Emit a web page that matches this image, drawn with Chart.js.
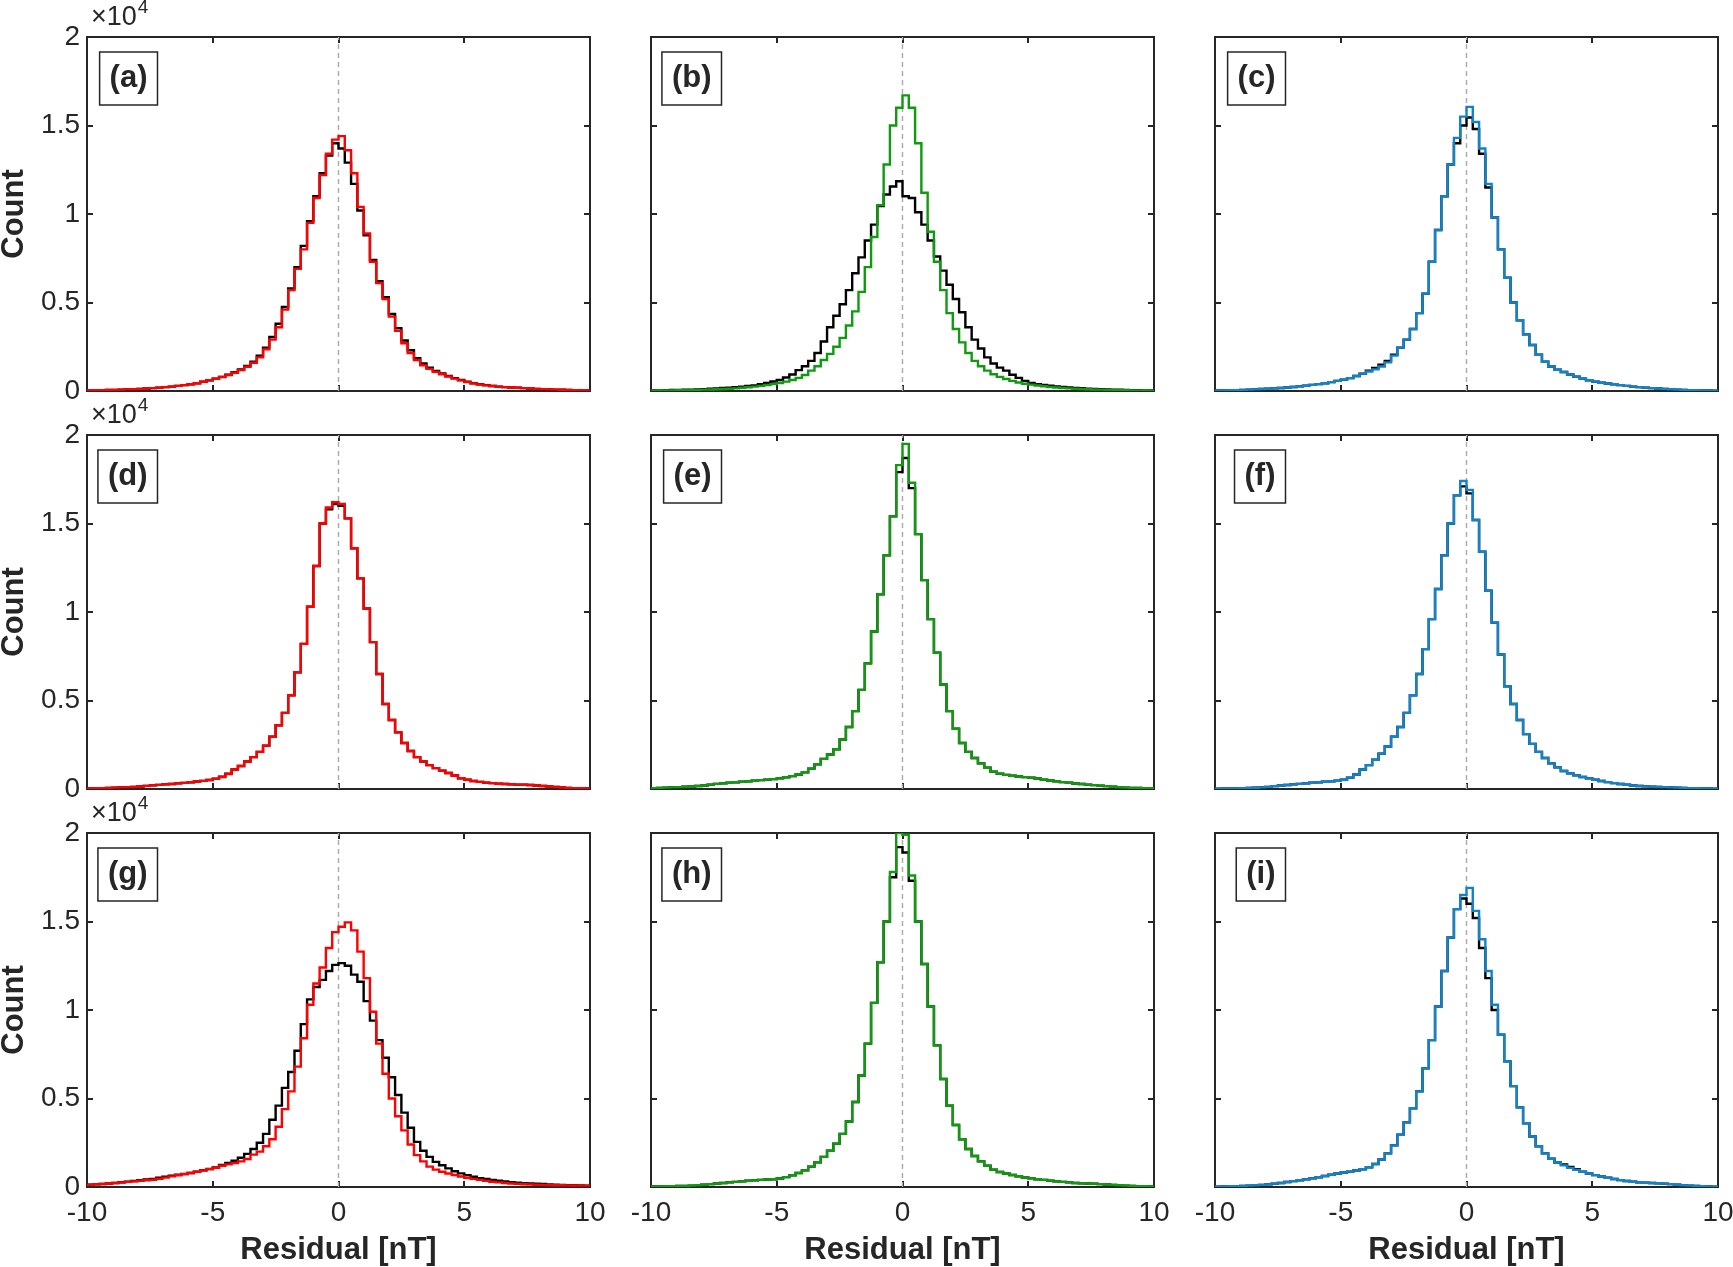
<!DOCTYPE html>
<html><head><meta charset="utf-8">
<script src="https://cdn.jsdelivr.net/npm/chart.js@4.4.1/dist/chart.umd.min.js"></script>
<style>
html,body{margin:0;padding:0;background:#fff;overflow:hidden;width:1733px;height:1267px;}
canvas{position:absolute;}
</style></head><body>
<script>
// ---------- DATA ----------
const binEdges = [-10,-9.75,-9.5,-9.25,-9,-8.75,-8.5,-8.25,-8,-7.75,-7.5,-7.25,-7,-6.75,-6.5,-6.25,-6,-5.75,-5.5,-5.25,
  -5,-4.75,-4.5,-4.25,-4,-3.75,-3.5,-3.25,-3,-2.75,-2.5,-2.25,-2,-1.75,-1.5,-1.25,-1,-0.75,-0.5,-0.25,
  0,0.25,0.5,0.75,1,1.25,1.5,1.75,2,2.25,2.5,2.75,3,3.25,3.5,3.75,4,4.25,4.5,4.75,
  5,5.25,5.5,5.75,6,6.25,6.5,6.75,7,7.25,7.5,7.75,8,8.25,8.5,8.75,9,9.25,9.5,9.75,10];
const xTicks = [-10,-5,0,5,10];
const xTickLabels = ['-10','-5','0','5','10'];
const yTicks = [0,5000,10000,15000,20000];
const yTickLabels = ['0','0.5','1','1.5','2'];
const panelLabels = ['(a)','(b)','(c)','(d)','(e)','(f)','(g)','(h)','(i)'];
const xTitle = 'Residual [nT]';
const yTitle = 'Count';

const redA = [30,40,45,55,65,75,90,100,120,140, 160,190,220,250,290,330,380,440,520,610,
  690,790,900,1030,1180,1370,1600,1900,2350,2900, 3600,4600,5700,6900,8000,9500,10900,12200,13400,14200,
  14400,13600,12300,10400,8900,7300,6100,5200,4200,3400, 2700,2150,1750,1450,1250,1080,950,820,700,600,
  500,430,370,320,280,250,220,200,180,160, 140,120,105,90,80,70,55,45,40,30];
const blackA = [30,40,45,55,65,75,90,100,120,140, 160,190,220,250,290,330,380,440,520,610,
  700,800,920,1060,1220,1420,1660,2000,2450,3050, 3800,4750,5800,7000,8200,9600,11000,12300,13300,14000,
  13700,12900,11700,10200,8800,7400,6200,5300,4350,3550, 2850,2300,1850,1550,1320,1130,990,850,730,620,
  520,440,380,330,285,250,220,200,180,160, 140,120,105,90,80,70,55,45,40,30];
const greenB = [20,25,30,35,40,45,55,65,75,85, 100,115,130,150,180,210,250,290,340,390,
  450,530,620,740,900,1150,1400,1750,2100,2500, 3000,3700,4500,5600,7000,8700,10500,12800,15000,16000,
  16700,16000,14000,11200,9000,7300,5700,4400,3500,2750, 2150,1700,1400,1150,950,800,680,570,480,410,
  360,310,270,230,200,170,150,130,110,95, 85,75,65,55,45,40,35,30,25,20];
const blackB = [30,35,45,55,60,70,80,90,105,125, 145,170,190,215,245,280,320,390,460,540,
  620,760,930,1180,1400,1700,2150,2800,3600,4250, 4900,5700,6650,7550,8500,9400,10450,11100,11550,11850,
  11000,10900,10100,9400,8500,7600,6800,6000,5200,4450, 3600,2900,2400,1900,1550,1320,1150,920,740,570,
  460,390,340,300,260,230,200,175,155,135, 120,105,90,80,70,60,50,40,35,30];
const blueC = [25,30,40,50,60,75,90,110,130,150, 170,195,225,260,300,345,390,440,500,570,
  640,730,850,980,1100,1220,1380,1620,2000,2450, 2900,3500,4400,5500,7300,9100,11000,12800,14300,15500,
  16050,15200,13700,11700,9800,8000,6400,5000,4000,3200, 2600,2050,1650,1380,1200,1070,930,810,700,610,
  530,470,420,380,330,290,250,220,190,160, 140,115,95,80,65,50,40,30,25,20];
const blackC = [25,30,40,50,60,75,90,110,130,150, 170,195,225,260,300,345,390,440,500,570,
  640,730,850,980,1150,1300,1480,1700,2050,2450, 2900,3500,4400,5500,7300,9100,11000,12800,14000,15000,
  15450,14800,13400,11500,9800,8000,6400,5000,4000,3200, 2600,2050,1650,1380,1200,1070,930,810,700,610,
  530,470,420,380,330,290,250,220,190,160, 140,115,95,80,65,50,40,30,25,20];
const redD = [30,40,50,60,75,90,105,120,145,175, 205,235,260,285,315,345,380,420,460,510,
  570,680,850,1100,1300,1550,1800,2100,2450,2950, 3600,4300,5300,6600,8200,10300,12600,15000,15900,16200,
  16100,15300,13600,11900,10200,8300,6500,4800,3900,3200, 2600,2150,1800,1550,1350,1180,1040,900,760,610,
  520,450,400,360,330,300,280,265,250,240, 225,200,170,140,110,85,65,50,40,30];
const blackD = [30,40,50,60,75,90,105,120,145,175, 205,235,260,285,315,345,380,420,460,510,
  580,700,870,1100,1300,1550,1800,2100,2450,2950, 3600,4300,5300,6600,8200,10300,12600,15000,15800,16100,
  16000,15300,13600,11900,10200,8300,6500,4800,3900,3200, 2600,2150,1800,1550,1350,1180,1040,900,760,610,
  520,450,400,360,330,300,280,265,250,240, 225,200,170,140,110,85,65,50,40,30];
const greenE = [50,60,75,90,105,125,145,170,200,250, 290,320,350,380,410,440,470,500,530,560,
  600,660,730,820,950,1150,1400,1700,1950,2250, 2800,3500,4400,5600,7100,8900,11000,13200,15400,18300,
  19500,17300,14400,11800,9600,7700,5900,4400,3400,2600, 2100,1750,1450,1200,980,870,800,750,710,670,
  640,590,530,480,430,390,350,310,280,250, 220,190,160,130,100,80,65,55,45,40];
const blackE = [50,60,75,90,105,125,145,170,200,250, 290,320,350,380,410,440,470,500,530,560,
  600,660,730,820,950,1150,1400,1700,1950,2250, 2800,3500,4400,5600,7100,8900,11000,13200,15400,17900,
  18700,17000,14400,11800,9600,7700,5900,4400,3400,2600, 2100,1750,1450,1200,980,870,800,750,710,670,
  640,590,530,480,430,390,350,310,280,250, 220,190,160,130,100,80,65,55,45,40];
const blueF = [20,25,30,35,45,55,70,90,120,160, 200,230,260,290,320,350,380,410,440,470,
  520,640,820,1100,1350,1650,2000,2400,2950,3500, 4300,5300,6500,7900,9600,11300,13200,15000,16600,17400,
  16900,15200,13400,11200,9400,7600,5800,4800,3900,3100, 2550,2100,1750,1450,1220,1020,880,770,680,600,
  520,450,390,330,280,240,200,170,150,135, 120,105,90,75,60,50,40,30,25,20];
const blackF = [20,25,30,35,45,55,70,90,120,160, 200,230,260,290,320,350,380,410,440,470,
  520,640,820,1100,1350,1650,2000,2400,2950,3500, 4300,5300,6500,7900,9600,11300,13200,15000,16600,17100,
  16700,15200,13400,11200,9400,7600,5800,4800,3900,3100, 2550,2100,1750,1450,1220,1020,880,770,680,600,
  520,450,390,330,280,240,200,170,150,135, 120,105,90,75,60,50,40,30,25,20];
const redG = [130,150,170,195,225,255,290,320,350,380, 410,470,530,600,660,720,790,860,930,1010,
  1090,1200,1280,1360,1450,1580,1830,2000,2300,2700, 3400,4400,5400,6800,8400,10300,11500,12400,13500,14400,
  14700,14950,14500,13300,11800,9900,8100,6400,5000,4000, 3200,2400,1800,1450,1150,980,860,760,680,590,
  520,460,400,350,300,260,230,200,175,155, 140,130,120,110,100,95,90,85,80,75];
const blackG = [130,150,170,200,230,265,300,340,380,420, 455,520,580,640,690,740,790,870,950,1020,
  1100,1250,1360,1480,1650,1870,2150,2500,3000,3800, 4600,5600,6500,7700,9200,10600,11300,11700,12200,12550,
  12650,12500,12000,11600,10500,9400,8300,7300,6200,5200, 4200,3350,2550,2050,1700,1420,1230,1050,890,770,
  670,580,500,450,400,355,310,275,245,220, 200,185,170,150,135,120,105,95,85,75];
const greenH = [30,35,40,45,55,65,80,100,130,165, 200,230,260,290,320,350,375,400,420,440,
  480,560,660,790,940,1150,1400,1700,2050,2450, 3000,3700,4800,6300,8100,10400,12700,15000,17800,20000,
  19900,17600,15000,12600,10200,8000,6100,4600,3500,2700, 2150,1750,1450,1200,980,850,760,680,610,540,
  490,440,400,360,320,290,260,230,210,195, 180,160,140,120,100,80,65,50,40,30];
const blackH = [30,35,40,45,55,65,80,100,130,165, 200,230,260,290,320,350,375,400,420,440,
  480,560,660,790,940,1150,1400,1700,2050,2450, 3000,3700,4800,6300,8100,10400,12700,15000,17500,19200,
  18900,17300,15000,12600,10200,8000,6100,4600,3500,2700, 2150,1750,1450,1200,980,850,760,680,610,540,
  490,440,400,360,320,290,260,230,210,195, 180,160,140,120,100,80,65,50,40,30];
const blueI = [20,30,40,50,60,75,95,120,150,190, 230,280,330,380,430,490,550,620,690,760,
  820,870,930,1000,1120,1300,1550,1900,2350,2950, 3650,4450,5400,6700,8300,10200,12200,14100,15700,16500,
  16900,15600,14000,12200,10300,8600,7100,5700,4500,3600, 2850,2300,1900,1600,1380,1220,1080,970,860,760,
  670,590,520,450,390,340,300,265,240,225, 210,190,160,130,100,75,55,40,30,20];
const blackI = [20,30,40,50,60,75,95,120,150,190, 230,280,330,380,430,490,550,620,690,760,
  820,870,930,1000,1120,1300,1550,1900,2350,2950, 3650,4450,5400,6700,8300,10200,12200,14100,15700,16300,
  16000,15200,13500,11800,10000,8600,7100,5700,4500,3600, 2850,2300,1900,1600,1380,1280,1130,1010,860,760,
  670,590,520,450,390,340,300,265,240,225, 210,190,160,130,100,75,55,40,30,20];

// ---------- STYLE / LAYOUT ----------
const RED = '#ff0000', GREEN = '#109a10', BLUE = '#1283c8';
const colColors = [RED, GREEN, BLUE];
const coloredSeries = [redA, greenB, blueC, redD, greenE, blueF, redG, greenH, blueI];
const blackSeries = [blackA, blackB, blackC, blackD, blackE, blackF, blackG, blackH, blackI];
const COL_LEFT = [87, 651, 1215];
const ROW_TOP = [37, 435, 833];
const PLOT_W = 503, PLOT_H = 354;
const ML = 87, MT = 37, MR = 15, MB = 80;
const FONT = "'Liberation Sans', Arial, Helvetica, sans-serif";
const AX = '#262626';

function toSteps(counts) {
  return binEdges.map((e, i) => ({x: e, y: counts[Math.min(i, counts.length - 1)]}));
}

function zeroPad(s) { s.paddingLeft = 0; s.paddingRight = 0; s.paddingTop = 0; s.paddingBottom = 0; }

const framePlugin = {
  id: 'matFrame',
  beforeDatasetsDraw(chart) {
    const {ctx, chartArea: a, scales: {x, y}} = chart;
    ctx.save();
    ctx.strokeStyle = AX; ctx.lineWidth = 2;
    ctx.beginPath();
    xTicks.forEach(v => {
      const px = Math.round(x.getPixelForValue(v));
      ctx.moveTo(px, a.bottom); ctx.lineTo(px, a.bottom - 6);
      ctx.moveTo(px, a.top); ctx.lineTo(px, a.top + 6);
    });
    yTicks.forEach(v => {
      const py = Math.round(y.getPixelForValue(v));
      ctx.moveTo(a.left, py); ctx.lineTo(a.left + 6, py);
      ctx.moveTo(a.right, py); ctx.lineTo(a.right - 6, py);
    });
    ctx.stroke();
    ctx.strokeRect(a.left, a.top, a.right - a.left, a.bottom - a.top);
    ctx.restore();
  },
  afterDatasetsDraw(chart) {
    const {ctx, chartArea: a} = chart;
    const info = chart.options.plugins.matFrame;
    ctx.save();
    // panel label box
    ctx.font = 'bold 31px ' + FONT;
    const tw = ctx.measureText(info.label).width;
    const bw = tw + 20, bh = 53;
    const bx = a.left + 70.5 - bw, by = a.top + 15;
    ctx.fillStyle = '#fff'; ctx.fillRect(bx, by, bw, bh);
    ctx.strokeStyle = AX; ctx.lineWidth = 1.5; ctx.strokeRect(bx, by, bw, bh);
    ctx.fillStyle = AX; ctx.textAlign = 'center'; ctx.textBaseline = 'middle';
    ctx.fillText(info.label, bx + bw / 2, by + bh / 2);
    // exponent label
    if (info.showY) {
      ctx.textAlign = 'left'; ctx.textBaseline = 'alphabetic';
      ctx.font = '27px ' + FONT;
      const base = '\u00d710';
      ctx.fillText(base, a.left + 4, a.top - 12);
      const w = ctx.measureText(base).width;
      ctx.font = '19px ' + FONT;
      ctx.fillText('4', a.left + 4 + w + 1, a.top - 24);
    }
    ctx.restore();
  }
};

coloredSeries.forEach((colored, idx) => {
  const row = Math.floor(idx / 3), col = idx % 3;
  const showY = col === 0, showX = row === 2;
  const cv = document.createElement('canvas');
  const W = ML + PLOT_W + MR, H = MT + PLOT_H + MB;
  cv.width = W; cv.height = H;
  cv.style.width = W + 'px'; cv.style.height = H + 'px';
  cv.style.left = (COL_LEFT[col] - ML) + 'px';
  cv.style.top = (ROW_TOP[row] - MT) + 'px';
  document.body.appendChild(cv);
  const lineCommon = {pointRadius: 0, fill: false, stepped: 'before', borderJoinStyle: 'miter', borderCapStyle: 'butt'};
  new Chart(cv, {
    type: 'line',
    data: {datasets: [
      Object.assign({data: toSteps(colored), borderColor: colColors[col], borderWidth: 2.4, order: 0}, lineCommon),
      Object.assign({data: toSteps(blackSeries[idx]), borderColor: '#000', borderWidth: 2.4, order: 1}, lineCommon),
      {data: [{x: 0, y: yTicks[0]}, {x: 0, y: yTicks[yTicks.length - 1]}], borderColor: '#a9a9a9', borderWidth: 1.4,
       borderDash: [5, 4], pointRadius: 0, fill: false, order: 2}
    ]},
    options: {
      responsive: false, animation: false, devicePixelRatio: 1,
      layout: {padding: {left: 0, top: MT, right: MR, bottom: 0}},
      plugins: {legend: {display: false}, tooltip: {enabled: false},
                matFrame: {label: panelLabels[idx], showY: showY}},
      scales: {
        x: {type: 'linear', min: xTicks[0], max: xTicks[xTicks.length - 1],
            afterFit: s => { s.height = MB; zeroPad(s); },
            afterBuildTicks: s => { s.ticks = xTicks.map(v => ({value: v})); },
            grid: {display: false, drawTicks: false}, border: {display: false},
            ticks: {display: showX, autoSkip: false, maxRotation: 0, minRotation: 0, padding: 9,
                    color: AX, font: {family: FONT, size: 28},
                    callback: v => xTickLabels[xTicks.indexOf(v)]},
            title: {display: showX, text: xTitle, color: AX, padding: {top: 0, bottom: -2},
                    font: {family: FONT, size: 31, weight: 'bold'}}},
        y: {type: 'linear', min: yTicks[0], max: yTicks[yTicks.length - 1],
            afterFit: s => { s.width = ML; zeroPad(s); },
            afterBuildTicks: s => { s.ticks = yTicks.map(v => ({value: v})); },
            grid: {display: false, drawTicks: false}, border: {display: false},
            ticks: {display: showY, autoSkip: false, padding: 7, color: AX, font: {family: FONT, size: 28},
                    callback: v => yTickLabels[yTicks.indexOf(v)]},
            title: {display: showY, text: yTitle, color: AX, padding: {top: -4, bottom: 0},
                    font: {family: FONT, size: 31, weight: 'bold'}}}
      }
    },
    plugins: [framePlugin]
  });
});
</script>
</body></html>
